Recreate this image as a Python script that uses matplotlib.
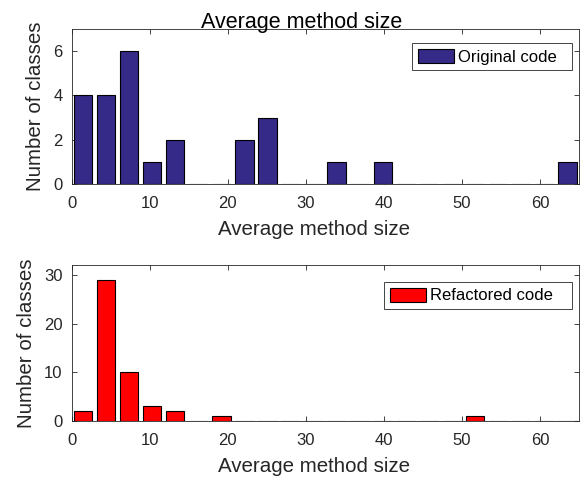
import matplotlib
matplotlib.use("Agg")
import matplotlib.pyplot as plt

plt.rcParams['font.family'] = ['Liberation Sans', 'DejaVu Sans']

bin_centers = [1.45, 4.41, 7.36, 10.32, 13.27, 16.23, 19.18, 22.14, 25.09, 28.05, 31.00,
               33.96, 36.91, 39.87, 42.82, 45.78, 48.73, 51.69, 54.64, 57.60, 60.55, 63.51]
original_counts = [4, 4, 6, 1, 2, 0, 0, 2, 3, 0, 0, 1, 0, 1, 0, 0, 0, 0, 0, 0, 0, 1]
refactored_counts = [2, 29, 10, 3, 2, 0, 1, 0, 0, 0, 0, 0, 0, 0, 0, 0, 0, 1, 0, 0, 0, 0]
x_ticks = [0, 10, 20, 30, 40, 50, 60]
top_yticks = [0, 2, 4, 6]
bot_yticks = [0, 10, 20, 30]

title = "Average method size"
xlabel = "Average method size"
ylabel = "Number of classes"

txt = '#262626'
fig = plt.figure(figsize=(5.81, 4.79), dpi=100)
ax1 = fig.add_axes([0.1231, 0.6165, 0.8735, 0.3223])
ax2 = fig.add_axes([0.1231, 0.1217, 0.8735, 0.3244])

bw = 0.8 * (bin_centers[1] - bin_centers[0])

def style(ax, ylim, yticks):
    ax.set_xlim(0, 65)
    ax.set_ylim(*ylim)
    ax.set_xticks(x_ticks)
    ax.set_yticks(yticks)
    ax.tick_params(direction='in', length=3.5, width=0.6, colors=txt, labelsize=12,
                   top=True, right=True)
    ax.tick_params(axis='x', pad=8.5)
    ax.tick_params(axis='y', pad=6.5)
    for s in ax.spines.values():
        s.set_color(txt)
        s.set_linewidth(0.6)
    ax.set_xlabel(xlabel, fontsize=14.8, color=txt, labelpad=7, x=0.478)
    ax.set_ylabel(ylabel, fontsize=14.8, color=txt, labelpad=6)

def legend(ax, box):
    leg = ax.legend(loc='upper left', bbox_to_anchor=box, mode='expand', fontsize=12,
                    frameon=True, fancybox=False, edgecolor=txt, framealpha=1,
                    handlelength=2.15, handleheight=0.9, handletextpad=0.25,
                    borderpad=0.35, borderaxespad=0.0)
    leg.get_frame().set_linewidth(0.6)
    return leg

ax1.bar(bin_centers, original_counts, width=bw, color='#352A87', edgecolor='black',
        linewidth=0.8, label='Original code', zorder=3)
style(ax1, (0, 7), top_yticks)
ax1.set_title(title, fontsize=15.5, color='black', pad=1, x=0.453)
legend(ax1, (0.671, 0.743, 0.315, 0.168))

ax2.bar(bin_centers, refactored_counts, width=bw, color='#FF0000', edgecolor='black',
        linewidth=0.8, label='Refactored code', zorder=3)
style(ax2, (0, 32), bot_yticks)
legend(ax2, (0.616, 0.738, 0.370, 0.155))

fig.savefig("out.png", dpi=100)
